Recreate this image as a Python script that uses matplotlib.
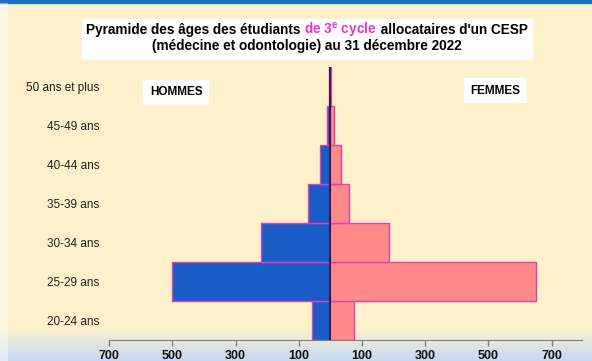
import matplotlib.pyplot as plt
import numpy as np
from matplotlib.patches import Rectangle

plt.rcParams['font.family'] = ['Liberation Sans', 'DejaVu Sans']

ages = ["20-24 ans", "25-29 ans", "30-34 ans", "35-39 ans",
        "40-44 ans", "45-49 ans", "50 ans et plus"]
hommes = [59, 500, 220, 72, 33, 12, 3]
femmes = [76, 650, 186, 60, 33, 12, 3]
xticks = [-700, -500, -300, -100, 100, 300, 500, 700]

W, H = 592, 361
fig = plt.figure(figsize=(W / 100, H / 100), dpi=100)
fig.patch.set_facecolor("#fff0cc")

# fond : bande bleue en haut, dégradé bleu clair en bas
bg = fig.add_axes([0, 0, 1, 1], zorder=-10)
bg.set_axis_off()
grad = np.ones((H, 1, 3))
grad[:] = np.array([255, 240, 204]) / 255
low_blue = np.array([196, 218, 244]) / 255
n = 32
for i in range(n):
    t = (i + 1) / n
    grad[H - n + i] = (1 - t) * grad[0] + t * low_blue
bg.imshow(grad, aspect="auto", extent=[0, W, H, 0])
bg.add_patch(Rectangle((0, 0), W, 3, color="#1f6fc0"))
bg.add_patch(Rectangle((0, 3), 8, H, color="white", alpha=0.45, lw=0))
bg.set_xlim(0, W)
bg.set_ylim(H, 0)

ax = fig.add_axes([109.2 / W, 1 - 340 / H, (582 - 109.2) / W, (340 - 66.7) / H])
ax.patch.set_alpha(0)

y = np.arange(len(ages))
edge = "#e040b0"
ax.barh(y, [-v for v in hommes], height=1.0, color="#1a5cc8",
        edgecolor=edge, linewidth=1)
ax.barh(y, femmes, height=1.0, color="#ff8a8a",
        edgecolor=edge, linewidth=1)
ax.plot([0, 0], [-0.5, 6.5], color="#1a1a50", linewidth=1.3)

ax.set_xlim(-700, 796)
ax.set_ylim(-0.5, 6.5)
ax.set_yticks(y)
ax.set_yticklabels(ages, fontsize=8.5, color="#222222")
ax.tick_params(axis="y", length=0, pad=7)
ax.set_xticks(xticks)
ax.set_xticklabels([str(abs(v)) for v in xticks], fontsize=9,
                   fontweight="bold", color="#111111")
ax.tick_params(axis="x", length=4, width=1, color="#808080", pad=3)
for s in ["top", "right", "left"]:
    ax.spines[s].set_visible(False)
ax.spines["bottom"].set_color("#808080")

ax.text(-488, 5.85, "HOMMES", fontsize=8.5, fontweight="bold", ha="center",
        va="center", bbox=dict(boxstyle="square,pad=0.55", fc="white", ec="none"))
ax.text(521, 5.88, "FEMMES", fontsize=8.5, fontweight="bold", ha="center",
        va="center", bbox=dict(boxstyle="square,pad=0.55", fc="white", ec="none"))

# titre dans un cadre blanc, "de 3e cycle" en magenta
bg.add_patch(Rectangle((82, 19), 450, 40, color="white"))
fs = 9.8
parts = [("Pyramide des âges des étudiants ", "black"),
         ("de 3$^{\\mathregular{e}}$ cycle", "#e637c8"),
         (" allocataires d'un CESP", "black")]
texts = [fig.text(0, 1 - 30 / H, s, color=c, fontsize=fs, fontweight="bold",
                  ha="left", va="center") for s, c in parts]
fig.canvas.draw()
r = fig.canvas.get_renderer()
widths = [t.get_window_extent(r).width for t in texts]
x0 = 307 - sum(widths) / 2
for t, w in zip(texts, widths):
    t.set_x(x0 / W)
    x0 += w
fig.text(307 / W, 1 - 46 / H, "(médecine et odontologie) au 31 décembre 2022",
         fontsize=fs, fontweight="bold", ha="center", va="center")

fig.savefig("out.png", dpi=100, facecolor=fig.get_facecolor())
